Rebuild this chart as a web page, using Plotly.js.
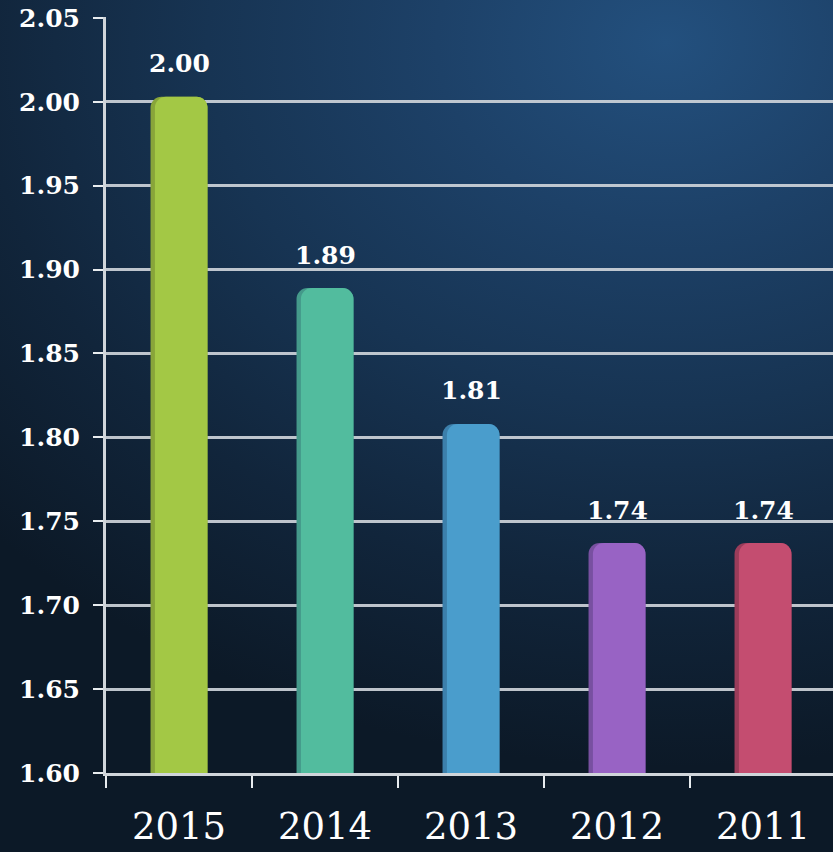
<!DOCTYPE html>
<html>
<head>
<meta charset="utf-8">
<script src="https://cdn.plot.ly/plotly-3.0.1.min.js"></script>
<style>
  html, body { margin: 0; padding: 0; width: 833px; height: 852px; overflow: hidden; }
  body {
    background:
      radial-gradient(ellipse 110% 85% at 80% 5%, #23507e 0%, #1d4168 25%, #173453 50%, #11253b 75%, #0c1927 100%);
  }
  #chart { width: 833px; height: 852px; }
</style>
</head>
<body>
<div id="chart"></div>
<script>
// Data
const years = ['2015', '2014', '2013', '2012', '2011'];
const values = [2.003, 1.889, 1.808, 1.737, 1.737];
const valueLabels = ['2.00', '1.89', '1.81', '1.74', '1.74'];
const barDark = ['#88a53a', '#44998a', '#3c7fab', '#7850a0', '#9a3c5a'];
const barLight = ['#a3c845', '#52bc9e', '#4a9dcc', '#9863c4', '#c44d70'];
const yTicks = [1.60, 1.65, 1.70, 1.75, 1.80, 1.85, 1.90, 1.95, 2.00, 2.05];

const traces = [
  {
    type: 'bar', x: years, y: values,
    width: 0.39, offset: -0.195,
    marker: { color: barDark, cornerradius: 11, line: { width: 0 } },
    hoverinfo: 'skip', showlegend: false
  },
  {
    type: 'bar', x: years, y: values,
    width: 0.36, offset: -0.165,
    marker: { color: barLight, cornerradius: 11, line: { width: 0 } },
    hoverinfo: 'skip', showlegend: false
  }
];

const annotations = years.map((yr, i) => ({
  x: i, y: values[i], xref: 'x', yref: 'y',
  text: valueLabels[i],
  showarrow: false, yanchor: 'middle', yshift: 33,
  font: { family: 'DejaVu Serif', size: 25, color: '#ffffff', weight: 'bold' }
}));

const layout = {
  width: 833, height: 852,
  margin: { l: 106, r: 0, t: 17, b: 79 },
  paper_bgcolor: 'rgba(0,0,0,0)',
  plot_bgcolor: 'rgba(0,0,0,0)',
  barmode: 'overlay',
  showlegend: false,
  xaxis: {
    type: 'category',
    range: [-0.5, 4.5 - 3 / 146],
    tickson: 'boundaries',
    ticks: 'outside', ticklen: 12, tickwidth: 2, tickcolor: '#e8ecef',
    showline: true, linecolor: '#d0d5da', linewidth: 3,
    showgrid: false, zeroline: false,
    ticklabelstandoff: 19,
    tickfont: { family: 'DejaVu Serif', size: 37, color: '#ffffff' }
  },
  yaxis: {
    range: [1.6, 2.0505],
    tickvals: yTicks,
    ticktext: yTicks.map(v => v.toFixed(2)),
    ticks: 'outside', ticklen: 10, tickwidth: 2, tickcolor: '#e8ecef',
    showline: true, linecolor: '#d0d5da', linewidth: 3,
    showgrid: true, gridcolor: 'rgba(205,211,217,0.92)', gridwidth: 3,
    zeroline: false,
    ticklabelstandoff: 8,
    tickfont: { family: 'DejaVu Serif', size: 25, color: '#ffffff', weight: 'bold' }
  },
  annotations: annotations
};

Plotly.newPlot('chart', traces, layout, { displayModeBar: false, staticPlot: true });
</script>
</body>
</html>
